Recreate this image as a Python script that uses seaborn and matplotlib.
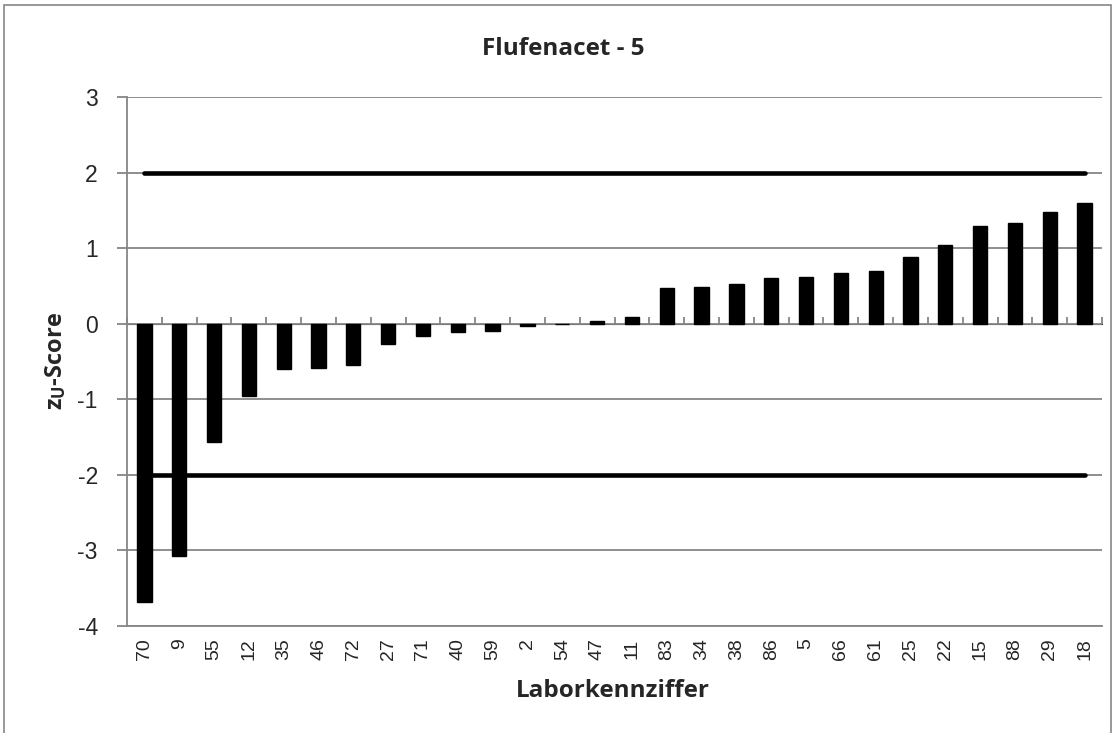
import matplotlib
matplotlib.use('Agg')
import matplotlib.pyplot as plt
import seaborn as sns
import pandas as pd
from matplotlib.patches import Rectangle

labs = ['70', '9', '55', '12', '35', '46', '72', '27', '71', '40', '59', '2', '54', '47', '11',
        '83', '34', '38', '86', '5', '66', '61', '25', '22', '15', '88', '29', '18']
zscores = [-3.68, -3.07, -1.56, -0.95, -0.60, -0.58, -0.55, -0.27, -0.16, -0.11, -0.10, -0.03, -0.01, 0.04, 0.09,
           0.47, 0.48, 0.52, 0.60, 0.62, 0.67, 0.70, 0.88, 1.04, 1.29, 1.33, 1.48, 1.60]
limits = [2, -2]

df = pd.DataFrame({'Labor': labs, 'z': zscores})

sns.set_style('white')
plt.rcParams['font.family'] = ['Liberation Sans', 'DejaVu Sans']
plt.rcParams['mathtext.default'] = 'regular'
plt.rcParams['axes.unicode_minus'] = False

W, H = 1115, 733
grey = '#868686'
fig = plt.figure(figsize=(W / 100, H / 100), dpi=100)
ax = fig.add_axes([127 / W, 1 - 626 / H, (1102 - 127) / W, (626 - 97) / H])

# chart-area border
fig.patches.append(Rectangle((4 / W, -0.01), (1111 - 4) / W, 1.01 - 5 / H, transform=fig.transFigure,
                             fill=False, edgecolor=grey, linewidth=1.2))

sns.barplot(data=df, x='Labor', y='z', color='black', width=0.41, ax=ax, order=labs)
for p in ax.patches:
    p.set_facecolor('black')
    p.set_edgecolor('black')

n = len(labs)
for lim in limits:
    ax.plot([0, n - 1], [lim, lim], color='black', lw=3.3, solid_capstyle='round', zorder=3)

ax.set_ylim(-4, 3)
ax.set_xlim(-0.5, n - 0.5)
ax.set_yticks(range(-4, 4))
ax.grid(axis='y', color=grey, lw=1.3)
ax.set_axisbelow(True)
for s in ['top', 'right']:
    ax.spines[s].set_visible(False)
for s in ['left', 'bottom']:
    ax.spines[s].set_color(grey)
    ax.spines[s].set_linewidth(1.3)

ax.tick_params(axis='y', length=7, color=grey, width=1.3, labelsize=16.5, pad=14, left=True)
ax.tick_params(axis='x', length=0, labelsize=14, labelrotation=90, pad=9)
ax.set_xlabel('')
ax.set_ylabel('')

# category axis crossing at zero, tick marks between categories
sec = ax.secondary_xaxis(4 / 7)
sec.set_xticks([i - 0.5 for i in range(n + 1)])
sec.set_xticklabels([])
sec.tick_params(axis='x', direction='out', length=5, color=grey, width=1.3)
sec.spines['bottom'].set_color(grey)
sec.spines['bottom'].set_linewidth(1.3)

bold = ['Open Sans', 'DejaVu Sans']
fig.text(563 / W, 1 - 55 / H, 'Flufenacet - 5', ha='center', va='baseline',
         fontsize=17.5, fontweight='bold', family=bold)
fig.text(613 / W, 1 - 697 / H, 'Laborkennziffer', ha='center', va='baseline',
         fontsize=17.5, fontweight='bold', family=bold)
fig.text(56 / W, 1 - 361 / H, 'z$_U$-Score', ha='center', va='center', rotation=90,
         fontsize=17, fontweight='bold', family=bold)

fig.savefig('out.png', dpi=100)
